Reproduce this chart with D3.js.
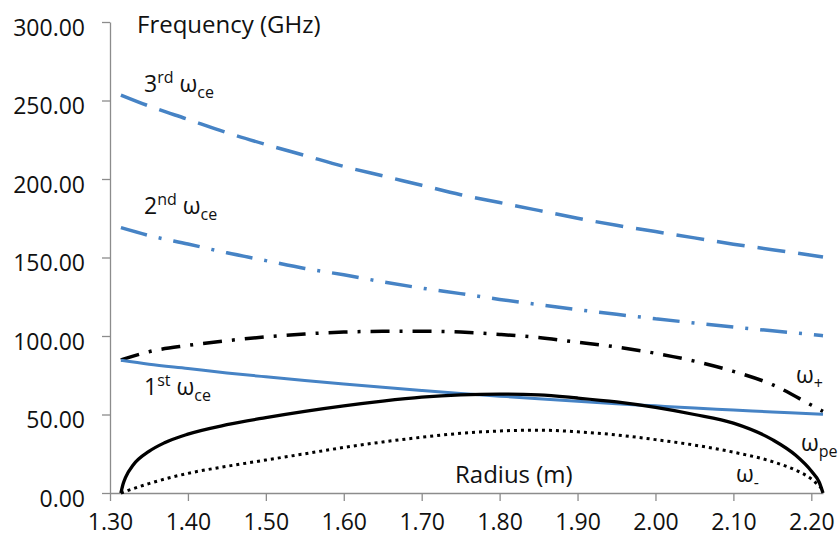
<!DOCTYPE html>
<html lang="en">
<head>
  <meta charset="UTF-8">
  <title>Frequency vs Radius</title>
  <script src="https://d3js.org/d3.v7.min.js"></script>
  <style>
    body {
      margin: 0;
      background: #fff;
      font-family: "Open Sans", sans-serif;
    }
    .tick-label {
      font-size: 23px;
      fill: #111;
    }
    .axis-title {
      font-size: 24px;
      fill: #111;
    }
    .curve-label {
      font-size: 23px;
      fill: #111;
    }
  </style>
</head>
<body>
  <div id="chart"></div>

  <script>
    // Radius points (m) shared by the three cyclotron harmonics
    const radiusCe = [1.314, 1.35, 1.40, 1.45, 1.50, 1.55, 1.60, 1.65, 1.70, 1.75,
                      1.80, 1.85, 1.90, 1.95, 2.00, 2.05, 2.10, 2.15, 2.20, 2.215];
    const ce1 = [84.5, 82, 79.3, 76.5, 74, 71.6, 69.4, 67.3, 65.3, 63.4,
                 61.7, 60, 58.4, 56.9, 55.5, 54.1, 52.9, 51.6, 50.5, 50.1];
    const ce2 = [169, 164, 158.6, 153, 148, 143, 139, 134.5, 130.5, 127,
                 123.3, 120, 116.8, 113.8, 111, 108.3, 105.7, 103.3, 101, 100.2];
    const ce3 = [253.5, 246.5, 238, 229.5, 222, 215, 208, 202, 196, 190,
                 185, 180, 175, 170.5, 166.5, 162.5, 158.5, 155, 151.5, 150.3];

    // Plasma frequency
    const radiusPe = [1.314, 1.317, 1.32, 1.33, 1.35, 1.37, 1.40, 1.45, 1.50, 1.55, 1.60, 1.65, 1.70,
                      1.75, 1.80, 1.85, 1.90, 1.95, 2.00, 2.05, 2.10, 2.15, 2.18, 2.20, 2.21, 2.215];
    const pe = [0, 6, 10, 18, 26.5, 32, 37.5, 43.5, 48, 52, 55.5, 58.5, 61,
                62.5, 63, 62.5, 60.5, 58, 54.5, 50, 44.5, 34, 24, 14, 7, 0];

    // Upper and lower cutoffs
    const radiusPlus = [1.314, 1.35, 1.40, 1.45, 1.50, 1.55, 1.60, 1.65, 1.70, 1.75,
                        1.80, 1.85, 1.90, 1.95, 2.00, 2.05, 2.10, 2.15, 2.20, 2.215];
    const plus = [84.7, 90, 94, 97, 99.5, 101.3, 102.5, 103, 103, 102.5,
                  101, 99, 96, 93, 89, 84, 77.5, 69, 56, 52];
    const radiusMinus = [1.314, 1.35, 1.40, 1.45, 1.50, 1.55, 1.60, 1.65, 1.70, 1.75, 1.80,
                         1.85, 1.90, 1.95, 2.00, 2.05, 2.10, 2.15, 2.18, 2.20, 2.215];
    const minus = [0, 6, 12.5, 17, 21, 25, 29, 32.5, 35.5, 38, 39.5,
                   40, 39, 37, 34, 30.5, 26, 20, 14.5, 9, 2];

    const xTicks = [1.30, 1.40, 1.50, 1.60, 1.70, 1.80, 1.90, 2.00, 2.10, 2.20];
    const yTicks = [0, 50, 100, 150, 200, 250, 300];

    const width = 840, height = 540;
    const blue = "#4683c5";

    const svg = d3.select("#chart")
      .append("svg")
      .attr("width", width)
      .attr("height", height);

    const x = d3.scaleLinear().domain([1.30, 2.215]).range([110, 823]);
    const y = d3.scaleLinear().domain([0, 300]).range([493, 22]);

    // Axes
    const xAxis = svg.append("g")
      .attr("transform", `translate(0,${y(0)})`)
      .call(d3.axisBottom(x).tickValues(xTicks).tickSize(8).tickSizeOuter(0).tickFormat(d3.format(".2f")));
    xAxis.selectAll("text")
      .attr("class", "tick-label")
      .attr("y", 37)
      .attr("dy", 0)
      .style("font-family", "'Open Sans', sans-serif")
      .attr("font-size", null);

    const yAxis = svg.append("g")
      .attr("transform", `translate(${x(1.30)},0)`)
      .call(d3.axisLeft(y).tickValues(yTicks).tickSize(8).tickSizeOuter(0).tickFormat(d3.format(".2f")));
    yAxis.selectAll("text")
      .attr("class", "tick-label")
      .attr("x", -25)
      .attr("dy", "0.58em")
      .style("font-family", "'Open Sans', sans-serif")
      .attr("font-size", null);

    svg.selectAll(".domain, .tick line")
      .attr("stroke", "#8c8c8c")
      .attr("stroke-width", 1.3);

    // Curves
    const line = d3.line()
      .x(d => x(d[0]))
      .y(d => y(d[1]))
      .curve(d3.curveMonotoneX);

    function drawCurve(rs, vs, color, width, dash) {
      svg.append("path")
        .datum(rs.map((r, i) => [r, vs[i]]))
        .attr("fill", "none")
        .attr("stroke", color)
        .attr("stroke-width", width)
        .attr("stroke-dasharray", dash)
        .attr("stroke-linejoin", "round")
        .attr("d", line);
    }

    drawCurve(radiusCe, ce3, blue, 3.5, "28,13");
    drawCurve(radiusCe, ce2, blue, 3.5, "27,12,3,12");
    drawCurve(radiusPlus, plus, "#000", 3.5, "19,10,3,10");
    drawCurve(radiusCe, ce1, blue, 3, null);
    drawCurve(radiusPe, pe, "#000", 3.3, null);
    drawCurve(radiusMinus, minus, "#000", 3, "3,4");

    // Axis titles
    svg.append("text")
      .attr("class", "axis-title")
      .attr("x", 137)
      .attr("y", 33)
      .text("Frequency (GHz)");

    svg.append("text")
      .attr("class", "axis-title")
      .attr("x", 455)
      .attr("y", 483)
      .text("Radius (m)");

    // Curve labels with super/subscripts
    function label(xp, yp, main, sup, omegaSub) {
      const t = svg.append("text")
        .attr("class", "curve-label")
        .attr("x", xp)
        .attr("y", yp);
      if (main) t.append("tspan").text(main);
      if (sup) {
        t.append("tspan").attr("font-size", 16).attr("dy", -9).text(sup);
        t.append("tspan").attr("dy", 9).text("\u00a0\u03c9");
      } else {
        t.append("tspan").text("\u03c9");
      }
      t.append("tspan").attr("font-size", 16).attr("dy", 6).text(omegaSub);
    }

    label(144, 92, "3", "rd", "ce");
    label(144, 214, "2", "nd", "ce");
    label(144, 395, "1", "st", "ce");
    label(796, 383, null, null, "+");
    label(801, 451, null, null, "pe");
    label(736, 482, null, null, "-");
  </script>
</body>
</html>
